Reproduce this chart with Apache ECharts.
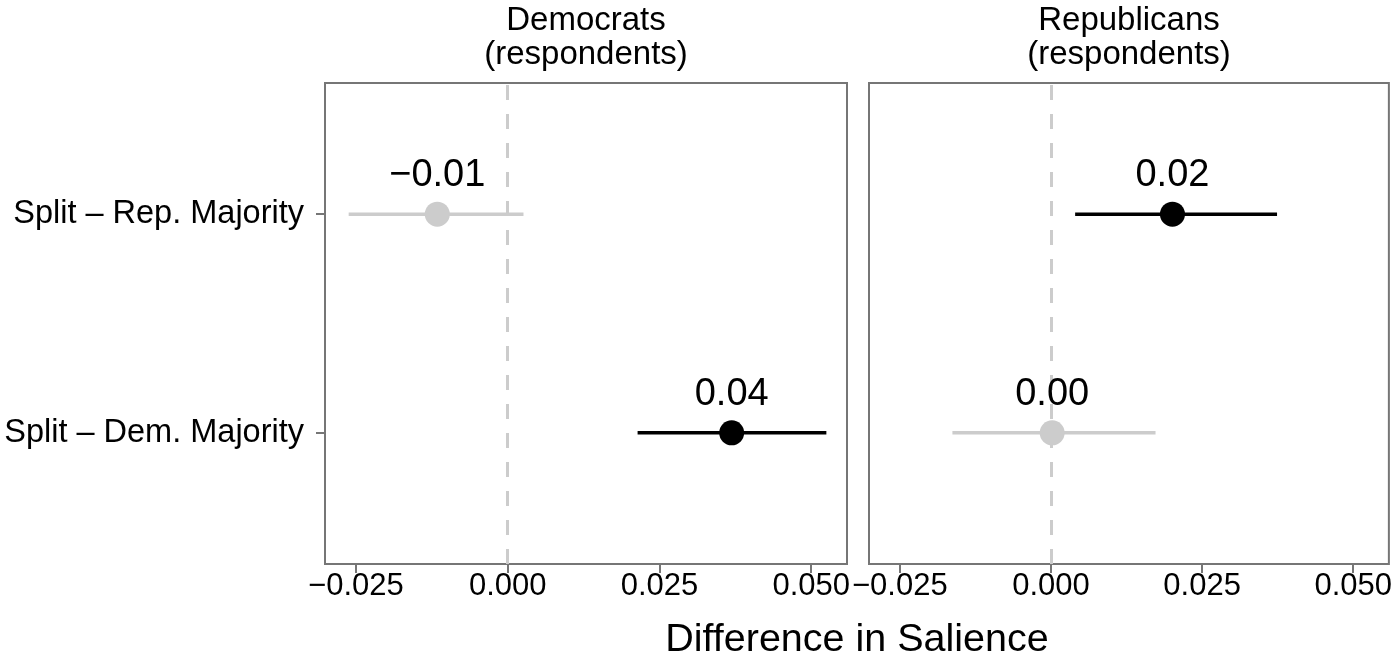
<!DOCTYPE html>
<html>
<head>
<meta charset="utf-8">
<script src="https://cdn.jsdelivr.net/npm/echarts@6/dist/echarts.min.js"></script>
<style>
html,body{margin:0;padding:0;background:#fff;}
#chart{width:1395px;height:672px;}
</style>
</head>
<body>
<div id="chart"></div>
<script>
// ---- data ----
const categories = ['Split – Dem. Majority', 'Split – Rep. Majority'];
const panelTitles = ['Democrats\n(respondents)', 'Republicans\n(respondents)'];
const xTicks = [-0.025, 0.000, 0.025, 0.050];
const xTitle = 'Difference in Salience';

const demEstimate = [0.0369, -0.0116];
const demLower    = [0.0214, -0.0262];
const demUpper    = [0.0525,  0.0026];

const repEstimate = [0.0002, 0.0201];
const repLower    = [-0.0163, 0.0040];
const repUpper    = [0.0173, 0.0374];

// ---- build ----
const FONT = 'Liberation Sans, Arial, Helvetica, sans-serif';
const GREY = '#cccccc';
const BLACK = '#000000';
const fmtMinus = (s) => s.replace('-', '\u2212');

function rows(est, lo, hi) {
  return est.map((e, i) => {
    const sig = (lo[i] > 0 || hi[i] < 0) ? 1 : 0;
    return { est: e, lo: lo[i], hi: hi[i], y: i + 1, sig: sig };
  });
}
const panels = [rows(demEstimate, demLower, demUpper), rows(repEstimate, repLower, repUpper)];

const gridDefs = [
  { left: 325, right: 548, top: 83, bottom: 108 },
  { left: 869, right: 6, top: 83, bottom: 108 }
];

const option = {
  backgroundColor: '#ffffff',
  animation: false,
  textStyle: { fontFamily: FONT },
  title: [
    { text: panelTitles[0], left: 586, top: 4, textAlign: 'center', padding: 0,
      textStyle: { fontFamily: FONT, fontSize: 33, fontWeight: 'normal', color: '#000', lineHeight: 34 } },
    { text: panelTitles[1], left: 1129, top: 4, textAlign: 'center', padding: 0,
      textStyle: { fontFamily: FONT, fontSize: 33, fontWeight: 'normal', color: '#000', lineHeight: 34 } },
    { text: xTitle, left: 857, top: 620, textAlign: 'center', padding: 0,
      textStyle: { fontFamily: FONT, fontSize: 39.5, fontWeight: 'normal', color: '#000', lineHeight: 40 } }
  ],
  grid: gridDefs.map(g => Object.assign({ show: true, borderColor: '#767676', borderWidth: 2, backgroundColor: '#fff', containLabel: false }, g)),
  xAxis: [0, 1].map(i => ({
    type: 'value', gridIndex: i, min: -0.0301, max: 0.0559,
    axisLine: { show: false, onZero: false },
    splitLine: { show: false },
    axisTick: { show: true, customValues: xTicks, length: 9, lineStyle: { color: '#767676', width: 2 } },
    axisLabel: { show: true, customValues: xTicks, margin: 7, fontSize: 31, color: '#000', fontFamily: FONT,
      formatter: v => fmtMinus(v.toFixed(3)) }
  })),
  yAxis: [0, 1].map(i => ({
    type: 'value', gridIndex: i, min: 0.4, max: 2.6,
    axisLine: { show: false, onZero: false },
    splitLine: { show: false },
    axisTick: { show: i === 0, customValues: [1, 2], length: 9, lineStyle: { color: '#767676', width: 2 } },
    axisLabel: { show: i === 0, customValues: [1, 2], margin: 21, fontSize: 32.5, color: '#000', fontFamily: FONT,
      formatter: v => categories[Math.round(v) - 1] || '' }
  })),
  series: []
};

panels.forEach((rs, pi) => {
  // error bars + zero reference line
  option.series.push({
    type: 'custom',
    xAxisIndex: pi, yAxisIndex: pi,
    z: 2,
    data: rs.map(r => [r.lo, r.hi, r.y, r.sig]),
    encode: { x: [0, 1], y: 2 },
    renderItem: function (params, api) {
      const p1 = api.coord([api.value(0), api.value(2)]);
      const p2 = api.coord([api.value(1), api.value(2)]);
      return {
        type: 'line',
        shape: { x1: p1[0], y1: p1[1], x2: p2[0], y2: p2[1] },
        style: { stroke: api.value(3) ? BLACK : GREY, lineWidth: 3.5 }
      };
    },
    markLine: {
      silent: true, symbol: 'none', z: 1,
      label: { show: false },
      lineStyle: { color: GREY, width: 3, type: [15, 14] },
      data: [{ xAxis: 0 }]
    }
  });
  // points with labels
  option.series.push({
    type: 'scatter',
    xAxisIndex: pi, yAxisIndex: pi,
    z: 3,
    symbolSize: 25,
    data: rs.map(r => ({
      value: [r.est, r.y],
      itemStyle: { color: r.sig ? BLACK : GREY, opacity: 1 }
    })),
    label: {
      show: true, position: 'top', distance: 7,
      fontSize: 38, color: '#000', fontFamily: FONT,
      formatter: p => fmtMinus(p.value[0].toFixed(2))
    }
  });
});

const chart = echarts.init(document.getElementById('chart'), null, { renderer: 'canvas' });
chart.setOption(option);
</script>
</body>
</html>
